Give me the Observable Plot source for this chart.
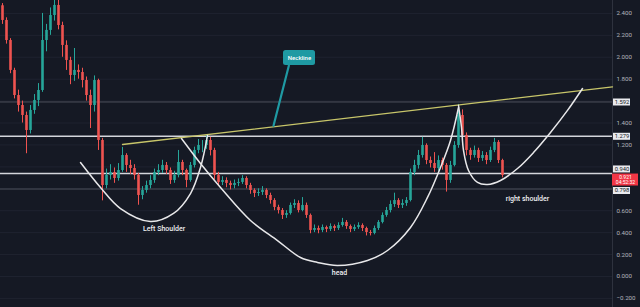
<!DOCTYPE html>
<html><head><meta charset="utf-8">
<script src="https://cdn.jsdelivr.net/npm/d3@7"></script>
<script src="https://cdn.jsdelivr.net/npm/@observablehq/plot@0.6"></script>
<style>
html,body{margin:0;padding:0;background:#151924;overflow:hidden}
</style></head><body><div id="chart"></div>
<script>
// ---- data ----
const firstOpen = 2.47;
const closes = [2.336,2.153,1.880,1.651,1.560,1.469,1.332,1.515,1.606,1.697,
 2.153,2.245,2.381,2.473,2.290,2.108,1.971,1.834,1.880,1.861,
 1.788,1.651,1.560,1.788,1.241,0.830,0.922,0.949,0.894,0.967,
 1.104,1.013,0.985,0.922,0.739,0.785,0.830,0.876,0.949,0.967,
 1.013,0.967,0.876,0.922,1.040,0.967,0.876,1.013,1.150,1.195,
 1.195,1.241,1.150,0.922,0.858,0.876,0.849,0.830,0.849,0.858,
 0.894,0.830,0.785,0.757,0.766,0.785,0.739,0.693,0.630,0.602,
 0.557,0.575,0.648,0.666,0.602,0.648,0.557,0.420,0.438,0.420,
 0.447,0.429,0.456,0.438,0.465,0.493,0.456,0.429,0.447,0.465,
 0.438,0.401,0.392,0.438,0.493,0.557,0.602,0.657,0.693,0.648,
 0.666,0.693,0.949,1.013,1.104,1.195,1.058,1.031,0.985,1.058,
 1.013,0.876,1.013,1.195,1.469,1.287,1.150,1.104,1.150,1.077,
 1.104,1.058,1.150,1.223,1.058,0.921];
const highs = [2.49,2.36,2.17,1.90,1.70,1.60,1.50,1.56,1.66,1.76,
 2.40,2.30,2.45,2.55,2.55,2.32,2.15,2.00,2.08,1.93,
 1.90,1.82,1.70,1.83,1.80,1.26,0.98,1.02,0.99,1.03,
 1.178,1.12,1.06,1.02,0.94,0.82,0.87,0.92,0.98,1.02,
 1.06,1.04,0.99,0.96,1.15,1.06,0.98,1.04,1.18,1.25,
 1.24,1.29,1.27,1.17,0.95,0.91,0.90,0.87,0.88,0.89,
 0.92,0.91,0.85,0.80,0.80,0.82,0.80,0.76,0.71,0.65,
 0.62,0.60,0.67,0.70,0.69,0.72,0.67,0.57,0.47,0.46,
 0.47,0.46,0.48,0.47,0.49,0.53,0.51,0.47,0.47,0.49,
 0.48,0.45,0.42,0.46,0.51,0.58,0.63,0.69,0.76,0.71,
 0.70,0.72,0.98,1.06,1.15,1.27,1.21,1.09,1.13,1.10,
 1.08,1.03,1.05,1.23,1.57,1.52,1.31,1.17,1.19,1.17,
 1.14,1.13,1.18,1.26,1.24,1.07];
const lows = [2.30,2.12,1.85,1.62,1.50,1.40,1.12,1.30,1.48,1.55,
 1.68,2.05,2.20,2.33,2.25,2.00,1.88,1.75,1.78,1.80,
 1.72,1.60,1.35,1.50,1.15,0.69,0.80,0.88,0.85,0.87,
 0.95,0.95,0.93,0.88,0.65,0.70,0.76,0.80,0.85,0.92,
 0.94,0.93,0.84,0.85,0.90,0.92,0.81,0.86,0.99,1.12,
 1.13,1.16,1.10,0.88,0.82,0.83,0.81,0.79,0.80,0.82,
 0.84,0.80,0.75,0.72,0.73,0.74,0.71,0.66,0.60,0.57,
 0.52,0.53,0.56,0.62,0.58,0.59,0.53,0.39,0.40,0.39,
 0.40,0.40,0.41,0.41,0.42,0.45,0.43,0.40,0.41,0.43,
 0.41,0.37,0.37,0.38,0.42,0.48,0.54,0.58,0.63,0.62,
 0.62,0.64,0.68,0.92,0.98,1.08,1.02,0.99,0.95,0.96,
 0.97,0.77,0.85,1.00,1.17,1.25,1.10,1.06,1.08,1.04,
 1.05,1.02,1.04,1.13,1.03,0.90];

const xDomain = [-0.5, 152.5];
const yDomain = [-0.283, 2.518];
const yTicks = [-0.2, 0, 0.2, 0.4, 0.6, 1.2, 1.4, 1.8, 2.0, 2.2, 2.4];
const gridTicks = [-0.2, 0, 0.2, 0.4, 0.6, 0.8, 1.0, 1.2, 1.4, 1.6, 1.8, 2.0, 2.2, 2.4];
const whiteLevels = [1.279, 0.940];
const grayLevels = [1.592, 0.798];
const lastPrice = 0.921;
const countdown = "04:52:32";

// annotation geometry in data space: [bar index, price]
const neckline = [[30, 1.204], [152.5, 1.73]];
const leftShoulder = [[19.5,1.040],[24.5,0.812],[29.5,0.620],[37,0.502],[42.75,0.575],[47,0.757],[49.5,0.995],[51.25,1.286]];
const headCurve = [[44.75,1.259],[49.5,1.031],[54.5,0.812],[62,0.511],[68.75,0.328],[74.5,0.173],[78.75,0.128],[83.75,0.100],[91.25,0.146],[96.25,0.237],[102,0.447],[106.25,0.721],[109.5,0.995],[112,1.241],[114,1.542]];
const rightShoulder = [[114,1.560],[114.75,1.359],[115.25,1.150],[116.5,0.967],[118.75,0.858],[121.25,0.839],[124.5,0.876],[128.75,0.985],[132.75,1.131],[137,1.314],[141.25,1.515],[145,1.715]];
const patternLabels = [
  {i: 40.4, p: 0.438, text: "Left Shoulder"},
  {i: 84.25, p: 0.036, text: "head"},
  {i: 131.25, p: 0.712, text: "right shoulder"}
];
const callout = {text: "Neckline", box: {i1: 70.25, i2: 78.25, p1: 1.925, p2: 2.062}, center: [74.25, 1.994], pointer: [[71.6, 1.925], [67.75, 1.375]]};

// ---- build ----
const GREEN = "#26a69a", RED = "#ef5350";
const candles = closes.map((c, i) => ({i, open: i ? closes[i - 1] : firstOpen, close: c, high: highs[i], low: lows[i]}));
const col = d => d.close >= d.open ? GREEN : RED;
const fmt = d3.format(".3f");
const FONT = "Roboto, 'Noto Sans', sans-serif";

function priceBox(v, opts) {
  return [
    Plot.ruleY([v], {insetLeft: 613, insetRight: -18, stroke: "#e9eaee", strokeWidth: 7, dy: opts.dy || 0}),
    Plot.text([v], {y: d => d, text: d => fmt(d), frameAnchor: "right", dx: 9.5, dy: opts.dy || 0, fill: "#131722", fontSize: 5.8, textAnchor: "middle", fontFamily: FONT})
  ];
}

const chart = Plot.plot({
  width: 640, height: 307,
  marginLeft: 0, marginRight: 28, marginTop: 0, marginBottom: 0,
  style: {background: "#151924", color: "#b2b5be", fontFamily: FONT},
  x: {domain: xDomain, axis: null},
  y: {domain: yDomain, axis: null},
  marks: [
    Plot.ruleY(gridTicks, {stroke: "#1f2330", strokeWidth: 1}),
    Plot.ruleX([xDomain[1]], {stroke: "#2e323e", strokeWidth: 1}),
    Plot.ruleY(grayLevels, {stroke: "#4a4e5a", strokeWidth: 1}),
    Plot.ruleY(whiteLevels, {stroke: "#d4d6dc", strokeWidth: 1.6}),
    Plot.ruleX(candles, {x: "i", y1: "low", y2: "high", stroke: col, strokeWidth: 1}),
    Plot.ruleX(candles, {x: "i", y1: "open", y2: "close", stroke: col, strokeWidth: 2.6}),
    Plot.line(neckline, {x: d => d[0], y: d => d[1], stroke: "#c8c66a", strokeWidth: 1.3}),
    Plot.line(leftShoulder, {x: d => d[0], y: d => d[1], curve: "catmull-rom", stroke: "#e8e8ea", strokeWidth: 1.5}),
    Plot.line(headCurve, {x: d => d[0], y: d => d[1], curve: "catmull-rom", stroke: "#e8e8ea", strokeWidth: 1.5}),
    Plot.line(rightShoulder, {x: d => d[0], y: d => d[1], curve: "catmull-rom", stroke: "#e8e8ea", strokeWidth: 1.5}),
    Plot.text(patternLabels, {x: "i", y: "p", text: "text", fill: "#f0f0f2", fontSize: 7, fontWeight: 500, fontFamily: FONT}),
    Plot.line(callout.pointer, {x: d => d[0], y: d => d[1], stroke: "#1f9aa3", strokeWidth: 2.2}),
    Plot.rect([callout.box], {x1: "i1", x2: "i2", y1: "p1", y2: "p2", fill: "#1f9aa3", rx: 2.5}),
    Plot.text([callout], {x: () => callout.center[0], y: () => callout.center[1], text: "text", fill: "white", fontSize: 6, fontWeight: 500, fontFamily: FONT}),
    Plot.axisY(yTicks, {anchor: "right", tickSize: 0, tickPadding: 4, tickFormat: fmt, fontSize: 6.2, fill: "#b2b5be", fontFamily: FONT}),
    ...priceBox(1.592, {}),
    ...priceBox(1.279, {}),
    ...priceBox(0.940, {dy: -4.5}),
    ...priceBox(0.798, {dy: 1.5}),
    Plot.ruleY([lastPrice], {insetLeft: 612, insetRight: -26, stroke: "#f23645", strokeWidth: 12, dy: 4}),
    Plot.text([lastPrice], {y: d => d, text: d => fmt(d) + "\n" + countdown, frameAnchor: "right", dx: 13, dy: 4, fill: "white", fontSize: 5, lineHeight: 1.1, textAnchor: "middle", fontFamily: FONT})
  ]
});
document.getElementById("chart").appendChild(chart);
</script>
</body></html>
